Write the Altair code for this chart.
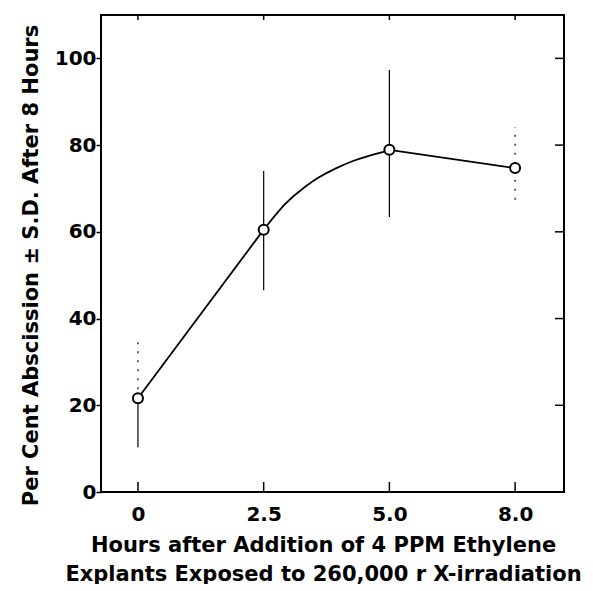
import json
import altair as alt
import pandas as pd

# ---- data ----
hours_labels = ["0", "2.5", "5.0", "8.0"]
positions = [0, 1, 2, 3]
pct_abscission = [21.6, 60.5, 78.9, 74.7]
sd_low = [10.3, 46.5, 63.4, 67.4]
sd_high = [34.9, 74.0, 97.3, 84.1]

# trace of the drawn curve between 2.5 h and 5.0 h
curve_pos = [1, 1.18, 1.31, 1.44, 1.57, 1.70, 1.83, 1.96, 2]
curve_val = [60.5, 67.0, 70.0, 72.7, 74.6, 76.3, 77.5, 78.5, 78.9]

# error bar segments (solid / dotted as printed)
seg_pos = [0, 0, 1, 2, 3]
seg_lo = [10.3, 21.6, 46.5, 63.4, 67.4]
seg_hi = [21.6, 34.9, 74.0, 97.3, 84.1]
seg_style = ["solid", "dotted", "solid", "solid", "dotted"]

y_ticks = [0, 20, 40, 60, 80, 100]

FONT = "DejaVu Sans"
W, H = 463, 477

points = pd.DataFrame({"pos": positions, "label": hours_labels,
                       "pct": pct_abscission, "lo": sd_low, "hi": sd_high})
curve = pd.DataFrame({"pos": curve_pos, "pct": curve_val})
first_leg = points[points["pos"] <= 1]
last_leg = points[points["pos"] >= 2]
segs = pd.DataFrame({"pos": seg_pos, "lo": seg_lo, "hi": seg_hi, "style": seg_style})
xt = pd.DataFrame({"pos": positions})
yt = pd.DataFrame({"v": y_ticks})

xscale = alt.Scale(domain=[-0.294, 3.389], nice=False, zero=False)
yscale = alt.Scale(domain=[0, 110], nice=False)

label_expr = json.dumps(hours_labels) + "[datum.value]"

x_axis = alt.Axis(
    values=positions, labelExpr=label_expr, ticks=False, domain=False, grid=False,
    labelFont=FONT, labelFontSize=20, labelFontWeight="bold", labelColor="black",
    labelPadding=12,
    title=["Hours after Addition of 4 PPM Ethylene",
           "Explants Exposed to 260,000 r X-irradiation"],
    titleFont=FONT, titleFontSize=21, titleFontWeight="bold", titleColor="black",
    titleLineHeight=29, titleX=222, titleY=42, titleAlign="center",
    titleBaseline="top",
)
y_axis = alt.Axis(
    values=y_ticks, tickSize=5, tickColor="black", tickWidth=1.5, domain=False,
    grid=False, labelFont=FONT, labelFontSize=20, labelFontWeight="bold",
    labelColor="black", labelPadding=0,
    title="Per Cent Abscission ± S.D. After 8 Hours",
    titleFont=FONT, titleFontSize=21, titleFontWeight="bold", titleColor="black",
    titleX=-70, titleY=250, titleAngle=-90, titleAlign="center",
    titleBaseline="middle",
)

err = alt.Chart(segs).mark_rule(color="black", strokeWidth=1.2).encode(
    x=alt.X("pos:Q", scale=xscale),
    y=alt.Y("lo:Q", scale=yscale),
    y2="hi:Q",
    strokeDash=alt.StrokeDash("style:N", legend=None,
                              scale=alt.Scale(domain=["solid", "dotted"],
                                              range=[[1, 0], [2, 7]])),
)

first_line = alt.Chart(first_leg).mark_line(color="black", strokeWidth=1.8).encode(
    x=alt.X("pos:Q", scale=xscale, axis=x_axis),
    y=alt.Y("pct:Q", scale=yscale, axis=y_axis))

curve_line = alt.Chart(curve).mark_line(color="black", strokeWidth=1.8,
                                         interpolate="basis").encode(
    x=alt.X("pos:Q", scale=xscale), y=alt.Y("pct:Q", scale=yscale))

last_line = alt.Chart(last_leg).mark_line(color="black", strokeWidth=1.8).encode(
    x=alt.X("pos:Q", scale=xscale), y=alt.Y("pct:Q", scale=yscale))

dots = alt.Chart(points).mark_point(shape="circle", size=100, filled=False,
                                    fill="white", fillOpacity=1,
                                    stroke="black", strokeWidth=2,
                                    opacity=1).encode(
    x=alt.X("pos:Q", scale=xscale), y=alt.Y("pct:Q", scale=yscale))

bottom_ticks = alt.Chart(xt).mark_rule(color="black", strokeWidth=1.5).encode(
    x=alt.X("pos:Q", scale=xscale), y=alt.value(H), y2=alt.value(H - 10))
top_ticks = alt.Chart(xt).mark_rule(color="black", strokeWidth=1.5).encode(
    x=alt.X("pos:Q", scale=xscale), y=alt.value(0), y2=alt.value(5))
right_ticks = alt.Chart(yt).mark_rule(color="black", strokeWidth=1.5).encode(
    y=alt.Y("v:Q", scale=yscale), x=alt.value(W), x2=alt.value(W - 9))

chart = alt.layer(
    first_line, curve_line, last_line, err, bottom_ticks, top_ticks,
    right_ticks, dots
).properties(
    width=W, height=H,
    autosize=alt.AutoSizeParams(type="none"),
    padding={"left": 93, "top": 7, "right": 21, "bottom": 92},
    background="white",
).configure_view(stroke="black", strokeWidth=2)

chart.save("out.html", embed_options={"renderer": "svg", "actions": False})
